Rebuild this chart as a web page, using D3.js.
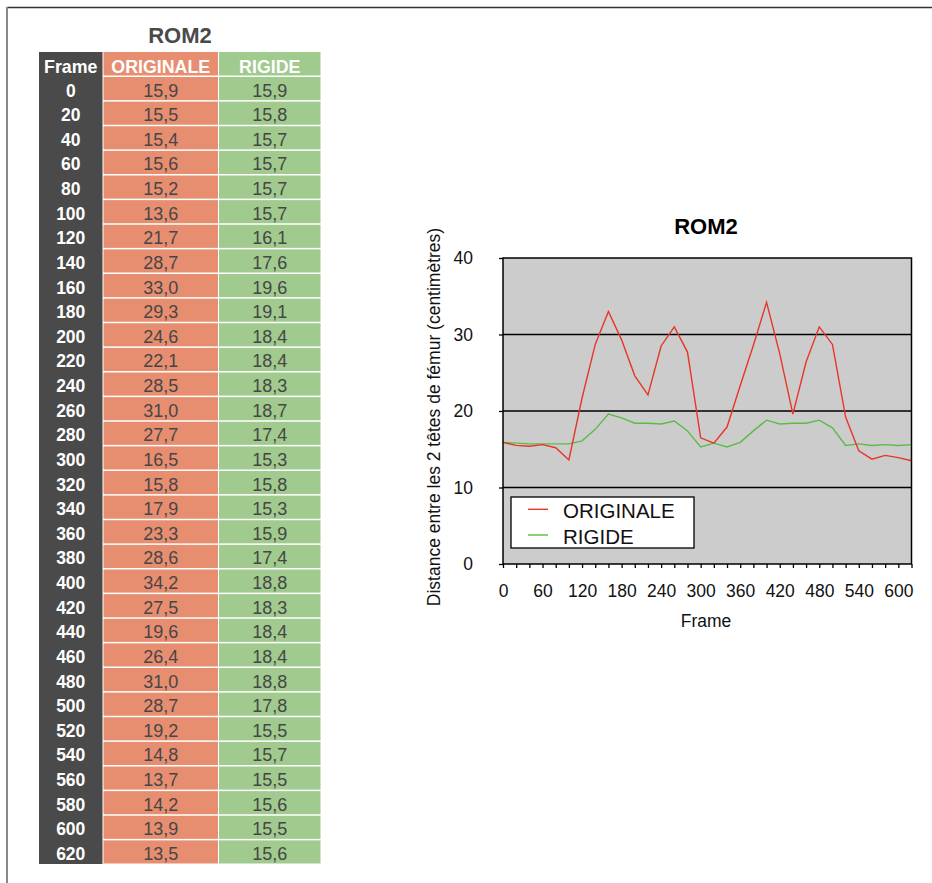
<!DOCTYPE html>
<html><head><meta charset="utf-8">
<script src="https://cdn.jsdelivr.net/npm/d3@7"></script>
<style>
body{margin:0;background:#fff;}
svg{display:block;font-family:"Helvetica Neue",Helvetica,Arial,"Liberation Sans",sans-serif;}
</style></head>
<body>
<svg id="c" width="932" height="883"></svg>
<script>
const title = "ROM2";
const frames = [0,20,40,60,80,100,120,140,160,180,200,220,240,260,280,300,320,340,360,380,400,420,440,460,480,500,520,540,560,580,600,620];
const originale = [15.9,15.5,15.4,15.6,15.2,13.6,21.7,28.7,33.0,29.3,24.6,22.1,28.5,31.0,27.7,16.5,15.8,17.9,23.3,28.6,34.2,27.5,19.6,26.4,31.0,28.7,19.2,14.8,13.7,14.2,13.9,13.5];
const rigide = [15.9,15.8,15.7,15.7,15.7,15.7,16.1,17.6,19.6,19.1,18.4,18.4,18.3,18.7,17.4,15.3,15.8,15.3,15.9,17.4,18.8,18.3,18.4,18.4,18.8,17.8,15.5,15.7,15.5,15.6,15.5,15.6];
const headers = ["Frame","ORIGINALE","RIGIDE"];
const xTickLabels = [0,60,120,180,240,300,360,420,480,540,600];
const yTickLabels = [0,10,20,30,40];
const seriesNames = ["ORIGINALE","RIGIDE"];
const yAxisTitle = "Distance entre les 2 têtes de fémur (centimètres)";
const xAxisTitle = "Frame";

const svg = d3.select("#c");
const fmt = v => v.toFixed(1).replace(".", ",");

// outer frame
svg.append("line").attr("x1",7).attr("x2",932).attr("y1",7.5).attr("y2",7.5).attr("stroke","#333").attr("stroke-width",1.5);
svg.append("line").attr("x1",7).attr("x2",7).attr("y1",7).attr("y2",883).attr("stroke","#8a8a8a").attr("stroke-width",2);

// ---------- TABLE ----------
const cols = [
  {x0:39, x1:102.5, fill:"#4a4a4a"},
  {x0:103.5, x1:218, fill:"#e88e70"},
  {x0:219, x1:320.5, fill:"#a0ca8e"}
];
const headTop = 52, headBot = 75.5, dataTop = 77, rowH = 24.625;
svg.append("text").attr("x",180).attr("y",43.3).attr("text-anchor","middle")
  .attr("font-size",22).attr("font-weight","bold").attr("fill","#4a4a4a").text(title);

svg.append("rect").attr("x",cols[0].x0).attr("y",headTop).attr("width",cols[0].x1-cols[0].x0)
  .attr("height",dataTop + rowH*frames.length - 1 - headTop).attr("fill",cols[0].fill);
headers.forEach((h,i)=>{
  const c = cols[i];
  if(i>0) svg.append("rect").attr("x",c.x0).attr("y",headTop).attr("width",c.x1-c.x0).attr("height",headBot-headTop).attr("fill",c.fill);
  svg.append("text").attr("x",(c.x0+c.x1)/2).attr("y",headTop+20.5).attr("text-anchor","middle")
    .attr("font-size",17.8).attr("font-weight","bold").attr("fill","#fff").text(h);
});
const rows = svg.append("g").selectAll("g").data(frames.map((f,i)=>({f,o:originale[i],r:rigide[i],i}))).join("g")
  .attr("transform",d=>`translate(0,${dataTop + d.i*rowH})`);
rows.append("rect").attr("x",cols[1].x0).attr("y",0).attr("width",cols[1].x1-cols[1].x0).attr("height",rowH-1.5).attr("fill",cols[1].fill);
rows.append("rect").attr("x",cols[2].x0).attr("y",0).attr("width",cols[2].x1-cols[2].x0).attr("height",rowH-1.5).attr("fill",cols[2].fill);
rows.append("text").attr("x",(cols[0].x0+cols[0].x1)/2).attr("y",19.6).attr("text-anchor","middle")
  .attr("font-size",17.5).attr("font-weight","bold").attr("fill","#fff").text(d=>d.f);
rows.append("text").attr("x",(cols[1].x0+cols[1].x1)/2).attr("y",19.6).attr("text-anchor","middle")
  .attr("font-size",18).attr("fill","#464646").text(d=>fmt(d.o));
rows.append("text").attr("x",(cols[2].x0+cols[2].x1)/2).attr("y",19.6).attr("text-anchor","middle")
  .attr("font-size",18).attr("fill","#464646").text(d=>fmt(d.r));

// ---------- CHART ----------
const L = 503, R = 911.5, T = 258, B = 564;
const x = d3.scaleLinear().domain([0,620]).range([L,R]);
const y = d3.scaleLinear().domain([0,40]).range([B,T]);

svg.append("rect").attr("x",L).attr("y",T).attr("width",R-L).attr("height",B-T).attr("fill","#cccccc");
svg.append("g").selectAll("line").data(yTickLabels.filter(v=>v>0 && v<40)).join("line")
  .attr("x1",L).attr("x2",R).attr("y1",d=>y(d)).attr("y2",d=>y(d)).attr("stroke","#000").attr("stroke-width",1.3);

const line = d3.line().x((d,i)=>x(frames[i])).y(d=>y(d));
svg.append("path").datum(rigide).attr("d",line).attr("fill","none").attr("stroke","#5cbb47").attr("stroke-width",1.4);
svg.append("path").datum(originale).attr("d",line).attr("fill","none").attr("stroke","#e83528").attr("stroke-width",1.4);

svg.append("rect").attr("x",L).attr("y",T).attr("width",R-L).attr("height",B-T).attr("fill","none").attr("stroke","#000").attr("stroke-width",1.5);

const xAxis = d3.axisBottom(x).tickValues(d3.range(0,621,20)).tickSize(4).tickFormat(d=>xTickLabels.includes(d)?d:"");
const gx = svg.append("g").attr("transform",`translate(0,${B})`).call(xAxis);
gx.select(".domain").remove();
gx.selectAll(".tick line").attr("stroke","#000").attr("stroke-width",1.3);
gx.selectAll(".tick text").attr("font-size",17.5).attr("fill","#111").attr("font-family","inherit").attr("y",0).attr("dy",33);

const yAxis = d3.axisLeft(y).tickValues(yTickLabels).tickSize(4).tickPadding(26);
const gy = svg.append("g").attr("transform",`translate(${L},0)`).call(yAxis);
gy.select(".domain").remove();
gy.selectAll(".tick line").attr("stroke","#000").attr("stroke-width",1.3);
gy.selectAll(".tick text").attr("font-size",17.5).attr("fill","#111").attr("font-family","inherit");

svg.append("text").attr("x",706).attr("y",234).attr("text-anchor","middle")
  .attr("font-size",22).attr("font-weight","bold").attr("fill","#000").text(title);
svg.append("text").attr("x",706).attr("y",627).attr("text-anchor","middle")
  .attr("font-size",17.5).attr("fill","#111").text(xAxisTitle);
svg.append("text").attr("transform","translate(440,417) rotate(-90)").attr("text-anchor","middle")
  .attr("font-size",17.5).attr("fill","#111").text(yAxisTitle);

const lg = svg.append("g");
lg.append("rect").attr("x",511).attr("y",497).attr("width",183).attr("height",51).attr("fill","#fff").attr("stroke","#000").attr("stroke-width",1.3);
const lcol = ["#e83528","#5cbb47"];
seriesNames.forEach((n,i)=>{
  const yy = 509.3 + i*25.7;
  lg.append("line").attr("x1",528).attr("x2",548).attr("y1",yy).attr("y2",yy).attr("stroke",lcol[i]).attr("stroke-width",1.4);
  lg.append("text").attr("x",563).attr("y",yy+9).attr("font-size",20.5).attr("fill","#111").text(n);
});
</script>
</body></html>
